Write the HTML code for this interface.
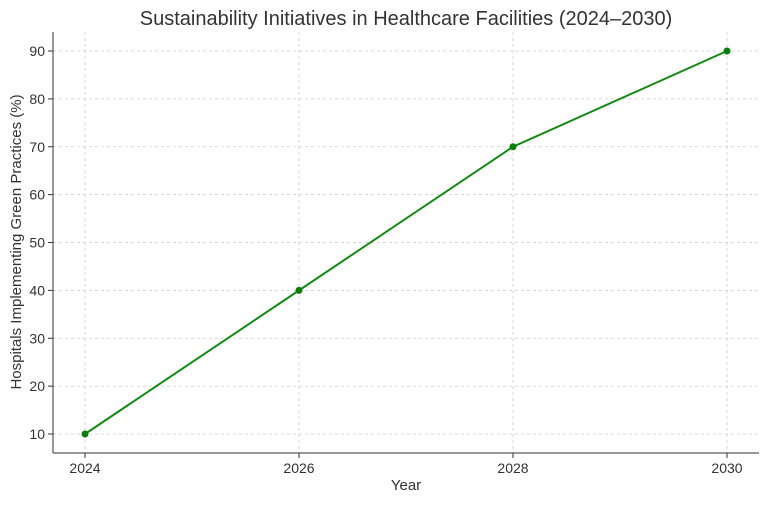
<!DOCTYPE html>
<html><head><meta charset="utf-8"><style>
body{margin:0;background:#fff;}
svg text{font-family:"Liberation Sans","DejaVu Sans",sans-serif;}
</style></head><body>
<svg id="chart" width="768" height="502" viewBox="0 0 768 502" xmlns="http://www.w3.org/2000/svg">
<rect width="768" height="502" fill="#fff"/>
<text x="406" y="25" font-size="20" fill="#333" text-anchor="middle">Sustainability Initiatives in Healthcare Facilities (2024–2030)</text>
<g id="grid"></g>
<g id="axes"></g>
<g id="series"></g>
<text x="406" y="490" font-size="15" fill="#333" text-anchor="middle">Year</text>
<text transform="translate(21,242) rotate(-90)" font-size="15" fill="#333" text-anchor="middle">Hospitals Implementing Green Practices (%)</text>
</svg>
<script>
const years = [2024, 2026, 2028, 2030];
const values = [10, 40, 70, 90];
const xTicks = [2024, 2026, 2028, 2030];
const yTicks = [10, 20, 30, 40, 50, 60, 70, 80, 90];

const L = 53, R = 759, T = 32, B = 453;
const x = v => 85 + (v - 2024) * (727 - 85) / 6;
const y = v => 434 - (v - 10) * (434 - 51) / 80;
const NS = 'http://www.w3.org/2000/svg';
function mk(tag, attrs, parent) {
  const e = document.createElementNS(NS, tag);
  for (const k in attrs) e.setAttribute(k, attrs[k]);
  parent.appendChild(e);
  return e;
}
const grid = document.getElementById('grid');
const axes = document.getElementById('axes');
const series = document.getElementById('series');

xTicks.forEach(t => {
  const g = mk('line', {x1: x(t), x2: x(t), y1: T, y2: B, stroke: '#ccc', 'stroke-width': 0.8, 'stroke-dasharray': '3,3'}, grid);
  
  
  const tk = mk('line', {x1: x(t), x2: x(t), y1: B, y2: B + 5, stroke: '#333'}, axes);
  
  
  const lb = mk('text', {x: x(t), y: B + 20, 'font-size': 14, fill: '#333', 'text-anchor': 'middle'}, axes);
  lb.textContent = t;
  
  
});
yTicks.forEach(t => {
  const g = mk('line', {x1: L, x2: R, y1: y(t), y2: y(t), stroke: '#ccc', 'stroke-width': 0.8, 'stroke-dasharray': '3,3'}, grid);
  
  
  const tk = mk('line', {x1: L - 5, x2: L, y1: y(t), y2: y(t), stroke: '#333'}, axes);
  
  
  const lb = mk('text', {x: L - 8, y: y(t) + 5, 'font-size': 14, fill: '#333', 'text-anchor': 'end'}, axes);
  lb.textContent = t;
  
  
});
const la = mk('line', {x1: L, x2: L, y1: T, y2: B, stroke: '#333', 'stroke-width': 1}, axes);


const ba = mk('line', {x1: L, x2: R, y1: B, y2: B, stroke: '#333', 'stroke-width': 1}, axes);



const pts = years.map((yr, i) => x(yr) + ',' + y(values[i])).join(' ');
const pl = mk('polyline', {points: pts, fill: 'none', stroke: '#138a13', 'stroke-width': 2}, series);


years.forEach((yr, i) => {
  const c = mk('circle', {cx: x(yr), cy: y(values[i]), r: 3.5, fill: '#0a7d0a'}, series);
  
  
});
</script>
</body></html>
